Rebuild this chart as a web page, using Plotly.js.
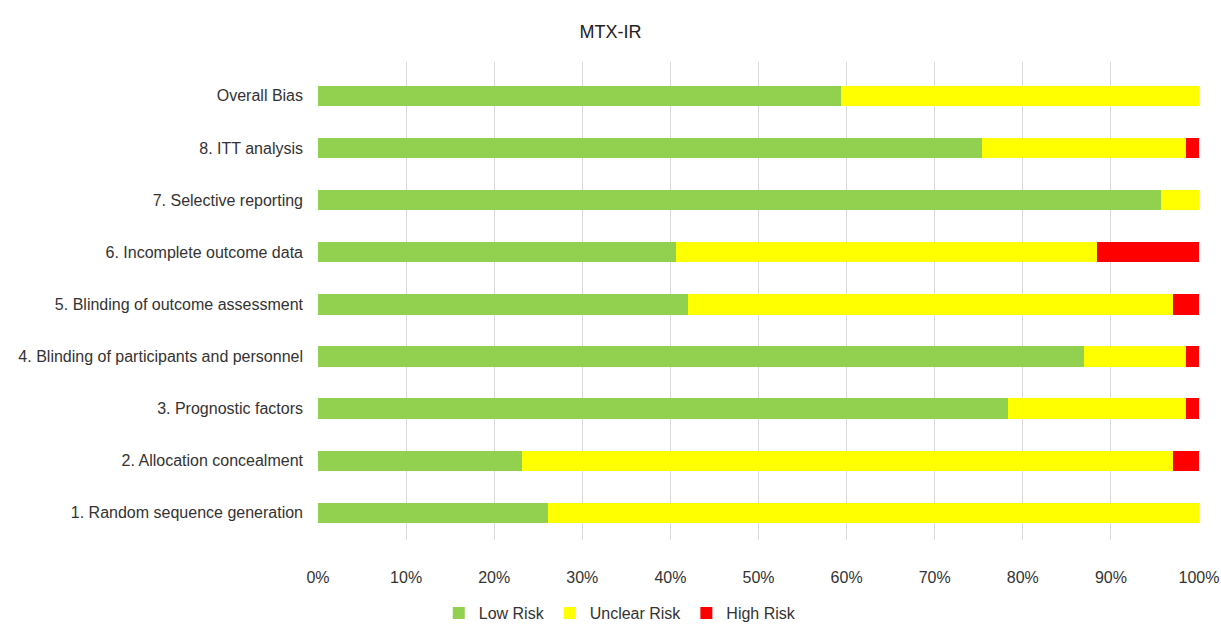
<!DOCTYPE html>
<html><head><meta charset="utf-8">
<script src="https://cdn.plot.ly/plotly-3.0.1.min.js"></script>
<style>body{margin:0;background:#fff}#chart{width:1221px;height:630px}</style>
</head><body><div id="chart"></div>
<script>
const categories = ["1. Random sequence generation","2. Allocation concealment","3. Prognostic factors","4. Blinding of participants and personnel","5. Blinding of outcome assessment","6. Incomplete outcome data","7. Selective reporting","8. ITT analysis","Overall Bias"];
const lowRisk     = [26.1, 23.2, 78.3, 87.0, 42.0, 40.6, 95.7, 75.4, 59.4];
const unclearRisk = [73.9, 73.9, 20.2, 11.5, 55.1, 47.8,  4.3, 23.1, 40.6];
const highRisk    = [ 0.0,  2.9,  1.5,  1.5,  2.9, 11.6,  0.0,  1.5,  0.0];
const tickVals = [0,10,20,30,40,50,60,70,80,90,100];
const tickText = ["0%","10%","20%","30%","40%","50%","60%","70%","80%","90%","100%"];

const font = "Liberation Sans Narrow, Arial Narrow, Liberation Sans, sans-serif";
const mk = (name, x, color) => ({type:'bar', orientation:'h', name, x, y:categories, marker:{color}, hoverinfo:'x+name'});
const data = [
  mk('Low Risk', lowRisk, '#92D050'),
  mk('Unclear Risk', unclearRisk, '#FFFF00'),
  mk('High Risk', highRisk, '#FF0000')
];
const layout = {
  width:1221, height:630,
  margin:{l:318, r:22, t:62, b:90},
  barmode:'stack', bargap:0.61,
  title:{text:'MTX-IR', x:0.5, xanchor:'center', y:0.96, font:{family:font, size:18, color:'#222'}},
  font:{family:font, size:16, color:'#333'},
  xaxis:{range:[0,100], tickvals:tickVals, ticktext:tickText, showgrid:true, gridcolor:'#d9d9d9', gridwidth:1, zeroline:false, showline:false, ticks:'', ticklabelstandoff:26, tickfont:{size:16, color:'#333'}, fixedrange:true},
  yaxis:{type:'category', range:[-0.52, 8.65], showgrid:false, showline:false, ticks:'', ticklabelstandoff:14, tickfont:{size:16, color:'#333'}, fixedrange:true},
  legend:{orientation:'h', x:0.508, xanchor:'center', xref:'container', yref:'container', y:-0.02, yanchor:'bottom', font:{size:16, color:'#333'}, traceorder:'normal', itemwidth:30},
  paper_bgcolor:'#fff', plot_bgcolor:'#fff'
};
Plotly.newPlot('chart', data, layout, {displayModeBar:false, staticPlot:true});
</script></body></html>
